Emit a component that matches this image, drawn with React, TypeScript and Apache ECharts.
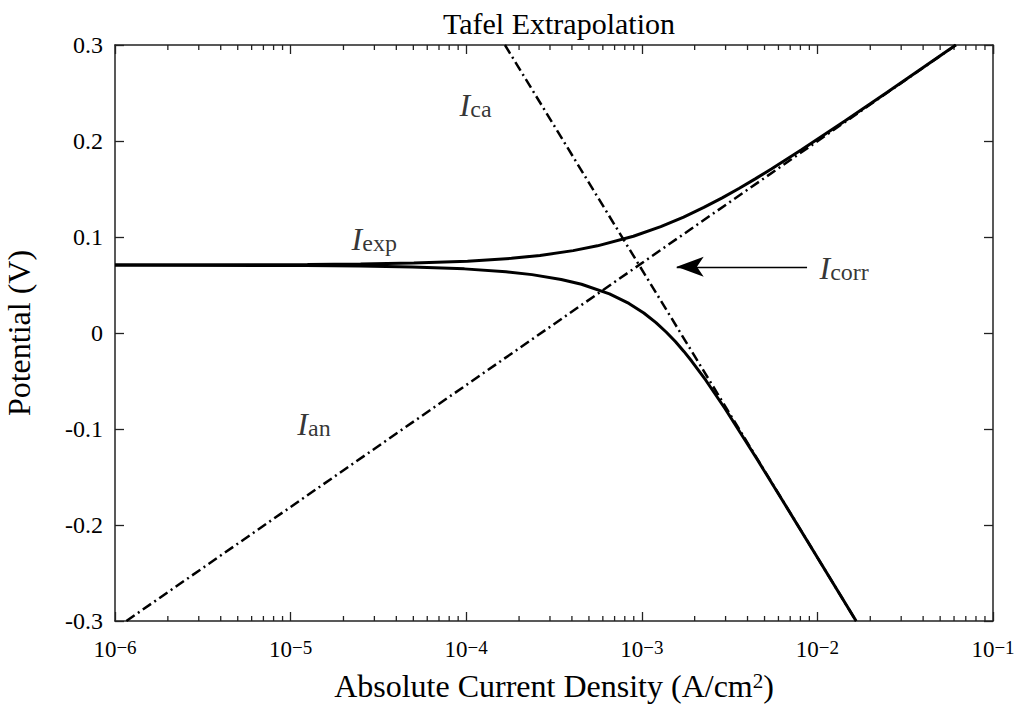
import React, { useEffect, useRef } from "react";
import * as echarts from "echarts";

const FONT = "'Liberation Serif', 'Times New Roman', serif";

// Experimental curve, upper (anodic) branch: [current density A/cm2, potential V]
const upperBranch: [number, number][] = [
  [1.0e-6, 0.07084], [1.248e-5, 0.0713], [2.504e-5, 0.0718], [5.033e-5, 0.0728],
  [1.0175e-4, 0.0748], [1.8105e-4, 0.0778], [2.631e-4, 0.0808], [4.065e-4, 0.0858],
  [5.59e-4, 0.0908], [8.956e-4, 0.1008], [1.2824e-3, 0.1108], [1.7306e-3, 0.1208],
  [2.2557e-3, 0.1308], [2.87e-3, 0.1408], [3.5937e-3, 0.1508], [4.451e-3, 0.1608],
  [5.4688e-3, 0.1708], [8.117e-3, 0.1908], [1.4335e-2, 0.2208], [2.4987e-2, 0.2508],
  [6.138e-2, 0.3],
];
// Experimental curve, lower (cathodic) branch
const lowerBranch: [number, number][] = [
  [1.0e-6, 0.07076], [1.2227e-5, 0.0703], [2.478e-5, 0.0698], [4.929e-5, 0.0688],
  [9.76e-5, 0.0668], [1.6831e-4, 0.0638], [2.37e-4, 0.0608], [3.475e-4, 0.0558],
  [4.5356e-4, 0.0508], [6.546e-4, 0.0408], [8.445e-4, 0.0308], [1.0266e-3, 0.0208],
  [1.2043e-3, 0.0108], [1.3802e-3, 0.0008], [1.5569e-3, -0.0092], [1.7367e-3, -0.0192],
  [1.9216e-3, -0.0292], [2.3144e-3, -0.0492], [2.988e-3, -0.0792], [4.4535e-3, -0.1292],
  [6.564e-3, -0.1792], [9.646e-3, -0.2292], [1.6615e-2, -0.3],
];
// Tafel extrapolation lines
const anodicLine: [number, number][] = [[1.161e-6, -0.3], [6.154e-2, 0.3]];
const cathodicLine: [number, number][] = [[1.662e-4, 0.3], [1.662e-2, -0.3]];

// Axis ranges and ticks
const xMin = 1e-6;
const xMax = 1e-1;
const yMin = -0.3;
const yMax = 0.3;
const yStep = 0.1;
const minorTickValues: number[] = [
  2e-6, 3e-6, 4e-6, 5e-6, 6e-6, 7e-6, 8e-6, 9e-6,
  2e-5, 3e-5, 4e-5, 5e-5, 6e-5, 7e-5, 8e-5, 9e-5,
  2e-4, 3e-4, 4e-4, 5e-4, 6e-4, 7e-4, 8e-4, 9e-4,
  2e-3, 3e-3, 4e-3, 5e-3, 6e-3, 7e-3, 8e-3, 9e-3,
  2e-2, 3e-2, 4e-2, 5e-2, 6e-2, 7e-2, 8e-2, 9e-2,
];

// Annotations: position and subscript of the italic I
const annotations: { pos: [number, number]; sub: string }[] = [
  { pos: [9.23e-5, 0.2375], sub: "ca" },
  { pos: [2.24e-5, 0.0979], sub: "exp" },
  { pos: [1.1e-5, -0.0948], sub: "an" },
  { pos: [1.035e-2, 0.0667], sub: "corr" },
];
const arrowFrom: [number, number] = [8.73e-3, 0.069];
const arrowTo: [number, number] = [1.58e-3, 0.069];

const AXIS_COLOR = "#222";

export default function App() {
  const ref = useRef<HTMLDivElement>(null);
  useEffect(() => {
    if (!ref.current) return;
    const chart = echarts.init(ref.current, undefined, { renderer: "svg" });
    const axisLineStyle = { color: AXIS_COLOR, width: 1.5 };
    const tickStyle = { color: AXIS_COLOR, width: 1.3 };
    const option: any = {
      animation: false,
      backgroundColor: "#fff",
      title: {
        text: "Tafel Extrapolation",
        left: 554,
        top: 3,
        textAlign: "center",
        textStyle: { fontFamily: FONT, fontSize: 30, fontWeight: "normal", color: "#000" },
      },
      grid: { left: 115, right: 23, top: 45, bottom: 84, containLabel: false, outerBoundsMode: "none" },
      xAxis: [
        {
          type: "log",
          logBase: 10,
          min: xMin,
          max: xMax,
          position: "bottom",
          name: "{n|Absolute Current Density (A/cm}{s|2}{n|)}",
          nameLocation: "middle",
          nameGap: 49,
          nameTextStyle: {
            rich: {
              n: { fontFamily: FONT, fontSize: 32, color: "#000" },
              s: { fontFamily: FONT, fontSize: 21, color: "#000", verticalAlign: "top" },
            },
          },
          axisLine: { show: true, onZero: false, lineStyle: axisLineStyle },
          axisTick: { show: true, inside: true, length: 9, lineStyle: tickStyle },
          splitLine: { show: false },
          axisLabel: {
            margin: 17,
            showMinLabel: true,
            showMaxLabel: true,
            formatter: (v: number) => {
              const e = Math.round(Math.log10(v));
              return "{b|10}{s|\u2212" + Math.abs(e) + "}";
            },
            rich: {
              b: { fontFamily: FONT, fontSize: 23, color: "#000" },
              s: { fontFamily: FONT, fontSize: 19, color: "#000", verticalAlign: "top" },
            },
          },
        },
        {
          type: "log",
          logBase: 10,
          min: xMin,
          max: xMax,
          position: "top",
          axisLine: { show: true, onZero: false, lineStyle: axisLineStyle },
          axisTick: { show: true, inside: true, length: 9, lineStyle: tickStyle },
          axisLabel: { show: false },
          splitLine: { show: false },
        },
      ],
      yAxis: [
        {
          type: "value",
          min: yMin,
          max: yMax,
          interval: yStep,
          position: "left",
          name: "Potential (V)",
          nameLocation: "middle",
          nameGap: 80,
          nameTextStyle: { fontFamily: FONT, fontSize: 32, color: "#000" },
          axisLine: { show: true, onZero: false, lineStyle: axisLineStyle },
          axisTick: { show: true, inside: true, length: 9, lineStyle: tickStyle },
          splitLine: { show: false },
          axisLabel: {
            margin: 12,
            fontFamily: FONT,
            fontSize: 24,
            color: "#000",
            formatter: (v: number) => (Math.abs(v) < 1e-9 ? "0" : v.toFixed(1)),
          },
        },
        {
          type: "value",
          min: yMin,
          max: yMax,
          interval: yStep,
          position: "right",
          axisLine: { show: true, onZero: false, lineStyle: axisLineStyle },
          axisTick: { show: true, inside: true, length: 9, lineStyle: tickStyle },
          axisLabel: { show: false },
          splitLine: { show: false },
        },
      ],
      series: [
        {
          type: "custom",
          xAxisIndex: 0,
          yAxisIndex: 0,
          silent: true,
          data: minorTickValues.map((v) => [v, 0]),
          renderItem: (params: any, api: any) => {
            const x = api.value(0);
            const b = api.coord([x, yMin]);
            const t = api.coord([x, yMax]);
            return {
              type: "group",
              children: [
                { type: "line", shape: { x1: b[0], y1: b[1], x2: b[0], y2: b[1] - 5 }, style: { stroke: AXIS_COLOR, lineWidth: 1.3 } },
                { type: "line", shape: { x1: t[0], y1: t[1], x2: t[0], y2: t[1] + 5 }, style: { stroke: AXIS_COLOR, lineWidth: 1.3 } },
              ],
            };
          },
        },
        {
          name: "I_an",
          type: "line",
          data: anodicLine,
          showSymbol: false,
          symbol: "none",
          lineStyle: { color: "#000", width: 2.5, type: [10, 4, 2, 4] },
          z: 3,
        },
        {
          name: "I_ca",
          type: "line",
          data: cathodicLine,
          showSymbol: false,
          symbol: "none",
          lineStyle: { color: "#000", width: 2.5, type: [10, 4, 2, 4] },
          z: 3,
        },
        {
          name: "I_exp upper",
          type: "line",
          data: upperBranch,
          symbol: "none",
          smooth: false,
          lineStyle: { color: "#000", width: 3 },
          z: 4,
        },
        {
          name: "I_exp lower",
          type: "line",
          data: lowerBranch,
          symbol: "none",
          smooth: false,
          lineStyle: { color: "#000", width: 3 },
          z: 4,
          markLine: {
            silent: true,
            symbol: ["none", "arrow"],
            symbolSize: [15, 27],
            label: { show: false },
            lineStyle: { color: "#000", width: 1.3, type: "solid" },
            data: [[{ coord: arrowFrom }, { coord: arrowTo }]],
          },
        },
        {
          name: "labels",
          type: "scatter",
          symbol: "circle",
          symbolSize: 1,
          itemStyle: { color: "rgba(0,0,0,0)" },
          silent: true,
          z: 5,
          data: annotations.map((a) => ({
            value: a.pos,
            label: {
              show: true,
              position: [0, 0],
              align: "left",
              verticalAlign: "middle",
              formatter: "{i|I}{s|" + a.sub + "}",
              rich: {
                i: { fontFamily: FONT, fontStyle: "italic", fontSize: 32, color: "#000" },
                s: { fontFamily: FONT, fontSize: 24, color: "#000", verticalAlign: "bottom" },
              },
            },
          })),
        },
      ],
    };
    chart.setOption(option);
    return () => chart.dispose();
  }, []);
  return (
    <div
      ref={ref}
      style={{ position: "absolute", left: 0, top: 0, width: 1016, height: 705, background: "#fff" }}
    />
  );
}
